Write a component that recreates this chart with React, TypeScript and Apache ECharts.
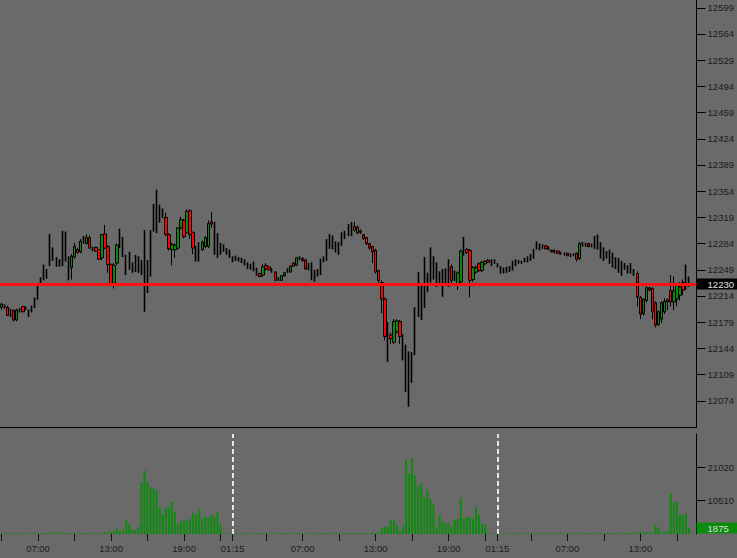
import React, { useEffect, useRef } from 'react';
import * as echarts from 'echarts';

// 15-minute candles, three sessions (01:15 - 22:45), first session starts at 04:00
const OPEN = [
  12199, 12198, 12199, 12189, 12195, 12182, 12193, 12200, 12196, 12189,
  12193, 12199, 12210, 12229, 12236, 12238, 12256, 12262, 12254, 12254,
  12255, 12261, 12236, 12252, 12266, 12276, 12273, 12285, 12284, 12292,
  12275, 12279, 12276, 12265, 12297, 12280, 12256, 12231, 12258, 12279,
  12267, 12243, 12250, 12246, 12247, 12246, 12243, 12232, 12219, 12241,
  12301, 12305, 12313, 12319, 12319, 12296, 12276, 12276, 12278, 12305,
  12315, 12299, 12328, 12299, 12274, 12276, 12276, 12280, 12280, 12313,
  12270, 12266, 12270, 12274, 12270, 12266,
  // session 2
  12260, 12262, 12261, 12259, 12256, 12251, 12250, 12248, 12242, 12244,
  12242, 12255, 12253, 12246, 12246, 12235, 12235, 12241, 12246, 12246,
  12258, 12255, 12263, 12264, 12262, 12249, 12240, 12234, 12241, 12243,
  12260, 12262, 12278, 12277, 12273, 12270, 12282, 12291, 12295, 12295,
  12307, 12298, 12301, 12296, 12292, 12284, 12280, 12275, 12248, 12232,
  12210, 12165, 12162, 12152, 12166, 12180, 12135, 12090, 12070, 12100,
  12137, 12188, 12184, 12200, 12220, 12233, 12237, 12227, 12232, 12215,
  12229, 12227, 12253, 12235, 12228, 12233, 12270, 12276, 12275, 12236,
  12246, 12257, 12248, 12257, 12262, 12255, 12258,
  // session 3
  12253, 12245, 12245, 12246, 12247, 12249, 12255, 12258, 12258, 12260,
  12260, 12262, 12265, 12278, 12276, 12278, 12281, 12276, 12275, 12272,
  12274, 12270, 12269, 12271, 12267, 12268, 12271, 12264, 12281, 12281,
  12284, 12280, 12278, 12277, 12265, 12262, 12265, 12258, 12253, 12251,
  12246, 12242, 12250, 12245, 12245, 12242, 12244, 12212, 12190, 12208,
  12225, 12224, 12205, 12176, 12183, 12193, 12209, 12221, 12206, 12210,
  12215, 12232, 12225, 12228,
];

const CLOSE = [
  12203, 12202, 12188, 12195, 12182, 12195, 12197, 12193, 12199, 12195,
  12200, 12211, 12230, 12238, 12255, 12249, 12296, 12278, 12265, 12262,
  12300, 12299, 12266, 12267, 12280, 12272, 12287, 12293, 12292, 12278,
  12279, 12274, 12263, 12296, 12278, 12256, 12230, 12255, 12282, 12303,
  12292, 12268, 12272, 12258, 12268, 12266, 12261, 12301, 12261, 12301,
  12336, 12340, 12335, 12330, 12296, 12277, 12283, 12282, 12305, 12316,
  12293, 12327, 12296, 12278, 12280, 12285, 12286, 12292, 12311, 12310,
  12312, 12297, 12284, 12282, 12277, 12275,
  // session 2
  12266, 12267, 12265, 12264, 12262, 12258, 12256, 12259, 12251, 12240,
  12253, 12250, 12249, 12250, 12235, 12238, 12241, 12245, 12250, 12254,
  12254, 12265, 12266, 12261, 12250, 12257, 12258, 12248, 12249, 12263,
  12266, 12289, 12296, 12294, 12286, 12285, 12298, 12299, 12309, 12312,
  12302, 12306, 12299, 12291, 12284, 12278, 12273, 12246, 12235, 12210,
  12160, 12140, 12157, 12180, 12181, 12160, 12162, 12148, 12139, 12138,
  12198, 12245, 12229, 12265, 12244, 12278, 12266, 12258, 12246, 12249,
  12250, 12262, 12235, 12247, 12245, 12274, 12292, 12272, 12235, 12252,
  12252, 12248, 12259, 12260, 12259, 12262, 12262,
  // session 3
  12257, 12253, 12251, 12252, 12253, 12260, 12262, 12261, 12260, 12264,
  12266, 12269, 12276, 12284, 12283, 12281, 12277, 12279, 12273, 12275,
  12271, 12272, 12271, 12268, 12270, 12270, 12263, 12284, 12285, 12284,
  12280, 12283, 12293, 12294, 12285, 12278, 12273, 12275, 12271, 12265,
  12264, 12260, 12257, 12254, 12257, 12249, 12213, 12190, 12210, 12225,
  12222, 12193, 12175, 12193, 12205, 12207, 12206, 12206, 12221, 12228,
  12226, 12222, 12250, 12236,
];

const LOW = [
  12196, 12197, 12187, 12186, 12180, 12180, 12192, 12192, 12195, 12186,
  12192, 12198, 12209, 12228, 12235, 12237, 12254, 12261, 12253, 12253,
  12254, 12260, 12235, 12236, 12264, 12271, 12271, 12284, 12283, 12277,
  12274, 12273, 12262, 12262, 12277, 12245, 12229, 12224, 12255, 12278,
  12266, 12242, 12249, 12245, 12246, 12245, 12242, 12193, 12218, 12240,
  12300, 12298, 12312, 12318, 12294, 12275, 12255, 12265, 12276, 12303,
  12291, 12297, 12290, 12270, 12260, 12260, 12274, 12278, 12278, 12305,
  12269, 12265, 12269, 12273, 12269, 12265,
  // session 2
  12259, 12261, 12260, 12258, 12255, 12250, 12249, 12247, 12241, 12239,
  12240, 12248, 12248, 12245, 12234, 12234, 12234, 12240, 12245, 12245,
  12253, 12254, 12262, 12260, 12249, 12248, 12235, 12233, 12240, 12242,
  12259, 12261, 12277, 12276, 12272, 12269, 12281, 12290, 12294, 12294,
  12300, 12297, 12297, 12289, 12282, 12276, 12258, 12244, 12232, 12191,
  12155, 12126, 12150, 12150, 12164, 12150, 12128, 12086, 12066, 12098,
  12135, 12186, 12182, 12198, 12219, 12232, 12236, 12226, 12231, 12213,
  12228, 12226, 12230, 12234, 12222, 12231, 12268, 12270, 12212, 12233,
  12244, 12246, 12246, 12255, 12258, 12254, 12257,
  // session 3
  12252, 12244, 12244, 12245, 12246, 12248, 12254, 12257, 12257, 12259,
  12259, 12261, 12264, 12276, 12275, 12277, 12276, 12275, 12272, 12271,
  12270, 12269, 12268, 12267, 12266, 12267, 12260, 12262, 12280, 12280,
  12279, 12279, 12277, 12276, 12264, 12261, 12264, 12257, 12252, 12250,
  12245, 12241, 12249, 12244, 12244, 12241, 12200, 12183, 12188, 12205,
  12220, 12183, 12172, 12174, 12178, 12190, 12195, 12200, 12195, 12200,
  12208, 12215, 12222, 12226,
];

const HIGH = [
  12205, 12203, 12201, 12197, 12196, 12197, 12198, 12201, 12200, 12196,
  12201, 12212, 12231, 12239, 12256, 12250, 12297, 12279, 12266, 12263,
  12301, 12300, 12267, 12270, 12285, 12278, 12290, 12294, 12296, 12295,
  12280, 12280, 12277, 12297, 12309, 12282, 12258, 12258, 12284, 12304,
  12293, 12269, 12273, 12259, 12269, 12267, 12262, 12302, 12262, 12302,
  12337, 12356, 12336, 12331, 12325, 12298, 12285, 12284, 12306, 12320,
  12317, 12330, 12330, 12300, 12281, 12286, 12288, 12294, 12315, 12326,
  12313, 12298, 12285, 12283, 12278, 12276,
  // session 2
  12267, 12268, 12266, 12265, 12263, 12259, 12257, 12260, 12252, 12245,
  12257, 12258, 12254, 12251, 12247, 12239, 12242, 12246, 12251, 12255,
  12259, 12266, 12267, 12266, 12264, 12258, 12259, 12249, 12250, 12264,
  12267, 12290, 12297, 12295, 12287, 12286, 12299, 12301, 12310, 12313,
  12313, 12308, 12303, 12297, 12293, 12285, 12281, 12277, 12249, 12235,
  12212, 12179, 12165, 12183, 12183, 12182, 12163, 12149, 12140, 12139,
  12199, 12246, 12230, 12266, 12245, 12279, 12267, 12259, 12247, 12250,
  12251, 12263, 12256, 12248, 12247, 12276, 12293, 12278, 12277, 12254,
  12255, 12259, 12261, 12262, 12263, 12263, 12263,
  // session 3
  12258, 12254, 12252, 12253, 12254, 12261, 12263, 12262, 12261, 12265,
  12267, 12270, 12277, 12287, 12284, 12283, 12282, 12280, 12276, 12276,
  12275, 12273, 12272, 12272, 12271, 12271, 12272, 12286, 12286, 12285,
  12285, 12284, 12294, 12296, 12286, 12279, 12274, 12276, 12272, 12266,
  12265, 12261, 12258, 12255, 12258, 12250, 12247, 12214, 12211, 12227,
  12226, 12226, 12207, 12195, 12207, 12211, 12211, 12242, 12240, 12232,
  12233, 12236, 12256, 12240,
];

// candle body style: g = up (green), r = down (red), k = plain black bar
const KIND =
  'gkrkrgkrkkkkkkkkkkkkkkkggrgkgrkrrgrrrggkkkkkkkkkkkkkkkrrggggrgrrkkgggrkkkkkk' +
  'kkkkkkkkkrgrrkrkggkgrgkrrkkkkkkkkkkkkkkkrgrrrrrrrrrkrggrkkkkkkkkkkkkkkkkrkggkrrggrggrkk' +
  'kkkkkkkkkkkkkkkkrkrkrkkrkkrgkkrkkkkkkkkkkkkkkkrrggrrrgggrrgggrkk';

const VOLUME = [
  200, 150, 250, 200, 300, 250, 150, 200, 150, 200,
  250, 200, 300, 250, 200, 250, 500, 300, 200, 250,
  600, 300, 250, 200, 300, 250, 200, 300, 250, 200,
  300, 250, 200, 300, 600, 300, 700, 1000, 1700, 700,
  1300, 4500, 3150, 1300, 1300, 2300, 16300, 20000, 16300, 14800,
  14400, 13700, 8300, 6300, 8500, 8300, 10200, 7100, 3250, 4200,
  4200, 4200, 4800, 6700, 6100, 8000, 4800, 5460, 5250, 5880,
  5250, 7040, 3250, 200, 150, 150,
  // session 2
  200, 250, 150, 200, 300, 200, 250, 150, 200, 250,
  300, 200, 250, 200, 150, 250, 200, 300, 250, 200,
  250, 200, 300, 250, 200, 150, 250, 300, 200, 250,
  300, 250, 200, 300, 250, 200, 300, 250, 200, 300,
  250, 300, 200, 250, 300, 250, 400, 300, 400, 1800,
  2200, 2200, 4500, 4200, 2700, 900, 2300, 23400, 19000, 24000,
  18400, 14900, 15900, 11500, 14000, 11000, 9250, 2200, 6100, 3900,
  3250, 3450, 2200, 4500, 4800, 11500, 4800, 5460, 5460, 4800,
  8500, 6100, 3250, 2950, 200, 150, 150,
  // session 3
  200, 150, 250, 200, 150, 200, 250, 200, 150, 200,
  250, 200, 300, 250, 200, 150, 250, 200, 300, 250,
  200, 250, 150, 200, 250, 300, 200, 250, 200, 300,
  250, 200, 300, 250, 300, 200, 250, 300, 250, 300,
  200, 300, 250, 300, 250, 400, 300, 1000, 300, 600,
  300, 300, 2950, 1800, 600, 600, 1000, 12700, 10000, 10300,
  6100, 5800, 6400, 1875,
];

// sessions: [day, first bar index in session, last bar index in session]
const SESSIONS = [
  [1, 11, 86],
  [2, 0, 86],
  [3, 0, 62],
];
const EMPTY_SLOTS = 3;
const LABEL_TIMES = ['07:00', '13:00', '19:00', '01:15'];
const TICK_TIMES = ['01:15', '04:00', '07:00', '10:00', '13:00', '16:00', '19:00', '22:00'];
const PRICE_LINE = 12230;
const LAST_VOLUME = 1875;
const PRICE_MIN = 12039;
const PRICE_MAX = 12609.4;
const PRICE_STEP = 35;
const VOL_STEP = 10510;
const VOL_MAX = 31530;

const pad = (n: number) => (n < 10 ? '0' + n : String(n));
const barTime = (k: number) => {
  const m = 75 + 15 * k;
  return pad(Math.floor(m / 60) % 24) + ':' + pad(m % 60);
};

const CATS: string[] = [];
SESSIONS.forEach(([d, a, b]) => {
  for (let k = a; k <= b; k++) CATS.push(d + '|' + barTime(k));
});
for (let i = 0; i < EMPTY_SLOTS; i++) CATS.push('x|');
const timeOf = (v: string) => String(v).split('|')[1] || '';
const SESSION_STARTS = CATS.map((c, i) => (timeOf(c) === '01:15' && i > 0 ? i : -1)).filter((i) => i >= 0);

const FONT = '"Liberation Sans", Arial, sans-serif';
const TXT = '#1c1c1c';
const BG = '#6a6a6a';
const EMPTY = ['-', '-', '-', '-'];

export default function App() {
  const ref = useRef<HTMLDivElement>(null);
  useEffect(() => {
    if (!ref.current) return;
    const chart = echarts.init(ref.current, null, { renderer: 'svg' });
    const blackData = OPEN.map((o, i) => (KIND[i] === 'k' ? [o, CLOSE[i], LOW[i], HIGH[i]] : EMPTY));
    const colorData = OPEN.map((o, i) => (KIND[i] !== 'k' ? [o, CLOSE[i], LOW[i], HIGH[i]] : EMPTY));

    const option: any = {
      animation: false,
      backgroundColor: BG,
      textStyle: { fontFamily: FONT },
      grid: [
        { left: 0, top: 0, width: 697, height: 427 },
        { left: 0, top: 434, width: 697, height: 100 },
      ],
      xAxis: [
        {
          type: 'category',
          gridIndex: 0,
          data: CATS,
          boundaryGap: true,
          axisLine: { show: true, lineStyle: { color: '#000', width: 1 } },
          axisTick: { show: false },
          axisLabel: { show: false },
          splitLine: { show: false },
        },
        {
          type: 'category',
          gridIndex: 1,
          data: CATS,
          boundaryGap: true,
          axisLine: { show: false },
          axisTick: {
            show: true,
            alignWithLabel: true,
            length: 7,
            interval: (_i: number, v: string) => TICK_TIMES.includes(timeOf(v)),
            lineStyle: { color: '#111', width: 1 },
          },
          axisLabel: {
            interval: (_i: number, v: string) => LABEL_TIMES.includes(timeOf(v)),
            formatter: (v: string) => timeOf(v),
            color: TXT,
            fontSize: 9.5,
            fontFamily: FONT,
            margin: 9,
          },
          splitLine: { show: false },
        },
      ],
      yAxis: [
        {
          type: 'value',
          gridIndex: 0,
          position: 'right',
          min: PRICE_MIN,
          max: PRICE_MAX,
          interval: PRICE_STEP,
          splitLine: { show: false },
          axisLine: { show: true, lineStyle: { color: '#000', width: 1 } },
          axisTick: { show: true, length: 9, lineStyle: { color: '#000' } },
          axisLabel: {
            showMinLabel: false,
            showMaxLabel: false,
            margin: 11,
            color: TXT,
            fontSize: 9.5,
            fontFamily: FONT,
            formatter: (v: number) => String(Math.round(v)),
          },
        },
        {
          type: 'value',
          gridIndex: 1,
          position: 'right',
          min: 0,
          max: VOL_MAX,
          interval: VOL_STEP,
          splitLine: { show: false },
          axisLine: { show: true, lineStyle: { color: '#000', width: 1 } },
          axisTick: { show: true, length: 9, lineStyle: { color: '#000' } },
          axisLabel: {
            showMinLabel: false,
            showMaxLabel: false,
            margin: 11,
            color: TXT,
            fontSize: 9.5,
            fontFamily: FONT,
            formatter: (v: number) => String(Math.round(v)),
          },
        },
      ],
      series: [
        {
          type: 'candlestick',
          xAxisIndex: 0,
          yAxisIndex: 0,
          data: blackData,
          barWidth: 1,
          itemStyle: { color: '#000', color0: '#000', borderColor: '#000', borderColor0: '#000', borderWidth: 1.6 },
        },
        {
          type: 'candlestick',
          xAxisIndex: 0,
          yAxisIndex: 0,
          data: colorData,
          barWidth: 3,
          itemStyle: { color: '#0a8a0a', color0: '#ff0000', borderColor: '#000', borderColor0: '#000', borderWidth: 1 },
          markLine: {
            symbol: 'none',
            silent: true,
            animation: false,
            data: [
              {
                yAxis: PRICE_LINE,
                lineStyle: { color: '#ff1010', width: 3, type: 'solid' },
                label: {
                  show: true,
                  position: 'end',
                  distance: 0,
                  formatter: String(PRICE_LINE),
                  color: '#e4e4e4',
                  backgroundColor: '#000',
                  padding: [1, 4, 0, 11],
                  fontSize: 9.5,
                  lineHeight: 10,
                  fontFamily: FONT,
                },
              },
            ],
          },
        },
        {
          type: 'bar',
          xAxisIndex: 1,
          yAxisIndex: 1,
          data: VOLUME,
          barWidth: 2,
          itemStyle: { color: '#0c8c0c' },
          markLine: {
            symbol: 'none',
            silent: true,
            animation: false,
            data: [
              ...SESSION_STARTS.map((i) => ({
                xAxis: i,
                lineStyle: { color: '#e6e6e6', width: 2, type: [5, 3] },
                label: { show: false },
              })),
              {
                yAxis: LAST_VOLUME,
                lineStyle: { color: 'rgba(0,0,0,0)', width: 0 },
                label: {
                  show: true,
                  position: 'end',
                  distance: 0,
                  formatter: String(LAST_VOLUME),
                  color: '#dcdcdc',
                  backgroundColor: '#0c8c0c',
                  padding: [1, 9, 0, 11],
                  fontSize: 9.5,
                  lineHeight: 10,
                  fontFamily: FONT,
                },
              },
            ],
          },
        },
      ],
    };
    chart.setOption(option);
    return () => chart.dispose();
  }, []);
  return (
    <div
      ref={ref}
      style={{ position: 'fixed', left: 0, top: 0, width: 737, height: 558, background: BG }}
    />
  );
}
